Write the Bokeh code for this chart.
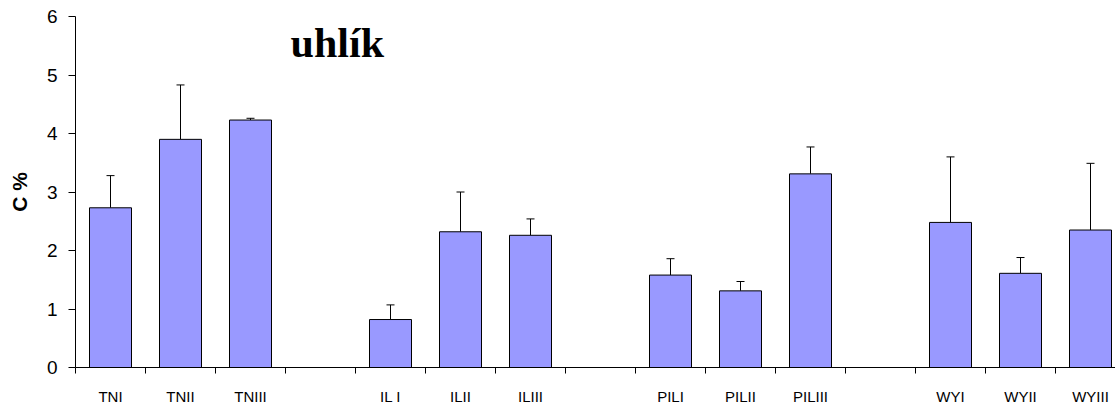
from bokeh.plotting import figure
from bokeh.models import ColumnDataSource, FixedTicker, Whisker, TeeHead, Label, Range1d
from bokeh.embed import file_html
from bokeh.resources import INLINE

labels = ["TNI", "TNII", "TNIII", "IL I", "ILII", "ILIII",
          "PILI", "PILII", "PILIII", "WYI", "WYII", "WYIII"]
values = [2.73, 3.90, 4.23, 0.82, 2.32, 2.26, 1.58, 1.31, 3.31, 2.48, 1.61, 2.35]
errors = [0.55, 0.93, 0.03, 0.25, 0.68, 0.28, 0.28, 0.16, 0.46, 1.12, 0.27, 1.14]
y_ticks = [0, 1, 2, 3, 4, 5, 6]
title_text = "uhlík"
y_title = "C %"

# each group of three bars is followed by one empty slot
slots = [i + i // 3 + 0.5 for i in range(len(labels))]
n_slots = len(labels) + len(labels) // 3

src = ColumnDataSource(dict(
    x=slots, top=values,
    upper=[v + e for v, e in zip(values, errors)],
    label=labels,
))

W, H = 1115, 412
left, top, bottom = 75, 16, 45
px_per_slot = 70.0
x_end = (W - left) / px_per_slot

p = figure(width=W, height=H, output_backend="svg", toolbar_location=None,
           x_range=Range1d(0, x_end), y_range=Range1d(0, 6),
           min_border_left=left, min_border_right=0,
           min_border_top=top, min_border_bottom=bottom)
p.outline_line_color = None
p.xgrid.visible = False
p.ygrid.visible = False
p.background_fill_color = "white"

p.vbar(x="x", top="top", width=0.6, bottom=0, source=src,
       fill_color="#9999FF", line_color="black", line_width=1)

w = Whisker(base="x", upper="upper", lower="top", source=src,
            line_color="black", line_width=1,
            upper_head=TeeHead(size=8, line_color="black", line_width=1),
            lower_head=None)
p.add_layout(w)

# x axis
xa = p.xaxis[0]
xa.ticker = FixedTicker(ticks=slots, minor_ticks=list(range(n_slots)))
xa.major_label_overrides = {s: l for s, l in zip(slots, labels)}
xa.major_tick_line_color = None
xa.major_tick_out = 0
xa.major_tick_in = 0
xa.minor_tick_out = 6
xa.minor_tick_in = 0
xa.minor_tick_line_color = "black"
xa.minor_tick_line_width = 1
xa.axis_line_color = "black"
xa.axis_line_width = 1
xa.major_label_text_font = "Liberation Sans"
xa.major_label_text_font_size = "15px"
xa.major_label_text_color = "black"
xa.major_label_standoff = 14

# y axis
ya = p.yaxis[0]
ya.ticker = FixedTicker(ticks=y_ticks)
ya.minor_tick_line_color = None
ya.major_tick_out = 7
ya.major_tick_in = 0
ya.major_tick_line_color = "black"
ya.axis_line_color = "black"
ya.axis_line_width = 1
ya.major_label_text_font = "Liberation Sans"
ya.major_label_text_font_size = "19px"
ya.major_label_text_color = "black"
ya.major_label_standoff = 11
ya.axis_label = y_title
ya.axis_label_text_font = "Liberation Sans"
ya.axis_label_text_font_style = "bold"
ya.axis_label_text_font_size = "21px"
ya.axis_label_text_color = "black"
ya.axis_label_standoff = 13

p.add_layout(Label(x=3.74, y=5.54, text=title_text, text_align="center",
                   text_baseline="alphabetic", text_font="Liberation Serif",
                   text_font_style="bold", text_font_size="42px",
                   text_color="black"))

open("out.html", "w").write(file_html(p, INLINE))
